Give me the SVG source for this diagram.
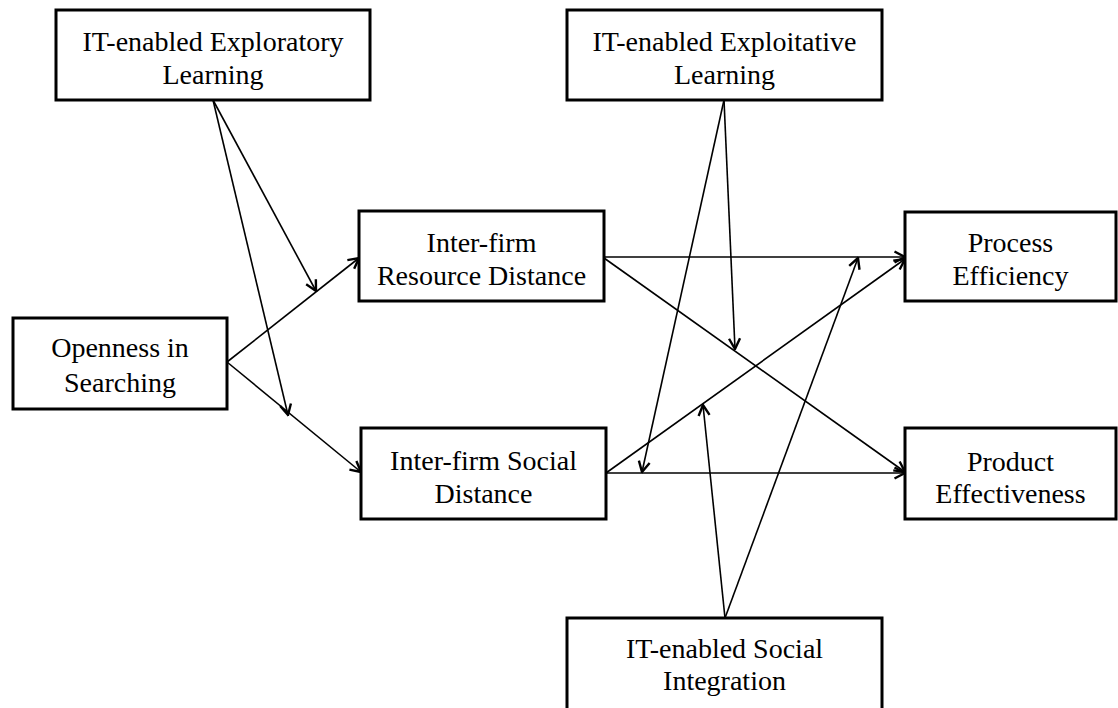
<svg xmlns="http://www.w3.org/2000/svg" width="1118" height="708" viewBox="0 0 1118 708">
<style>
.box{fill:#fff;stroke:#000;stroke-width:3}
.lbl{font-family:"Liberation Serif","Times New Roman",serif;font-size:28px;fill:#000;text-anchor:middle}
.con{fill:none;stroke:#000;stroke-width:1.6}
</style>
<defs>
<marker id="arr" viewBox="0 0 14 14" refX="12.5" refY="7" markerWidth="14" markerHeight="14" markerUnits="userSpaceOnUse" orient="auto">
<path d="M2,1.5 L12.5,7 L2,12.5" fill="none" stroke="#000" stroke-width="2.4"/>
</marker>
</defs>
<rect width="1118" height="708" fill="#fff"/>
<g id="connectors">
<line class="con" x1="227" y1="362" x2="359" y2="258" marker-end="url(#arr)"/>
<line class="con" x1="227" y1="362" x2="361" y2="472" marker-end="url(#arr)"/>
<line class="con" x1="213" y1="100" x2="316" y2="291" marker-end="url(#arr)"/>
<line class="con" x1="213" y1="100" x2="288" y2="415" marker-end="url(#arr)"/>
<line class="con" x1="604" y1="257" x2="905" y2="257" marker-end="url(#arr)"/>
<line class="con" x1="604" y1="258" x2="905" y2="472" marker-end="url(#arr)"/>
<line class="con" x1="606" y1="473" x2="905" y2="473" marker-end="url(#arr)"/>
<line class="con" x1="606" y1="473" x2="905" y2="259" marker-end="url(#arr)"/>
<line class="con" x1="724" y1="100" x2="735" y2="349" marker-end="url(#arr)"/>
<line class="con" x1="724" y1="100" x2="642" y2="472" marker-end="url(#arr)"/>
<line class="con" x1="725" y1="618" x2="703" y2="405" marker-end="url(#arr)"/>
<line class="con" x1="725" y1="618" x2="858" y2="258" marker-end="url(#arr)"/>
</g>
<g id="exploratory">
<rect class="box" x="56" y="10" width="314" height="90"/>
<text class="lbl" x="213" y="51">IT-enabled Exploratory</text>
<text class="lbl" x="213" y="84">Learning</text>
</g>
<g id="exploitative">
<rect class="box" x="567" y="10" width="315" height="90"/>
<text class="lbl" x="724.5" y="51">IT-enabled Exploitative</text>
<text class="lbl" x="724.5" y="84">Learning</text>
</g>
<g id="openness">
<rect class="box" x="13" y="318" width="214" height="91"/>
<text class="lbl" x="120" y="357">Openness in</text>
<text class="lbl" x="120" y="392">Searching</text>
</g>
<g id="resource">
<rect class="box" x="359" y="211" width="245" height="90"/>
<text class="lbl" x="481.5" y="252">Inter-firm</text>
<text class="lbl" x="481.5" y="285">Resource Distance</text>
</g>
<g id="social">
<rect class="box" x="361" y="428" width="245" height="91"/>
<text class="lbl" x="483.5" y="470">Inter-firm Social</text>
<text class="lbl" x="483.5" y="503">Distance</text>
</g>
<g id="process">
<rect class="box" x="905" y="212" width="211" height="89"/>
<text class="lbl" x="1010.5" y="252">Process</text>
<text class="lbl" x="1010.5" y="285">Efficiency</text>
</g>
<g id="product">
<rect class="box" x="905" y="428" width="211" height="91"/>
<text class="lbl" x="1010.5" y="471">Product</text>
<text class="lbl" x="1010.5" y="503">Effectiveness</text>
</g>
<g id="integration">
<rect class="box" x="567" y="618" width="315" height="100"/>
<text class="lbl" x="724.5" y="658">IT-enabled Social</text>
<text class="lbl" x="724.5" y="690">Integration</text>
</g>
</svg>
